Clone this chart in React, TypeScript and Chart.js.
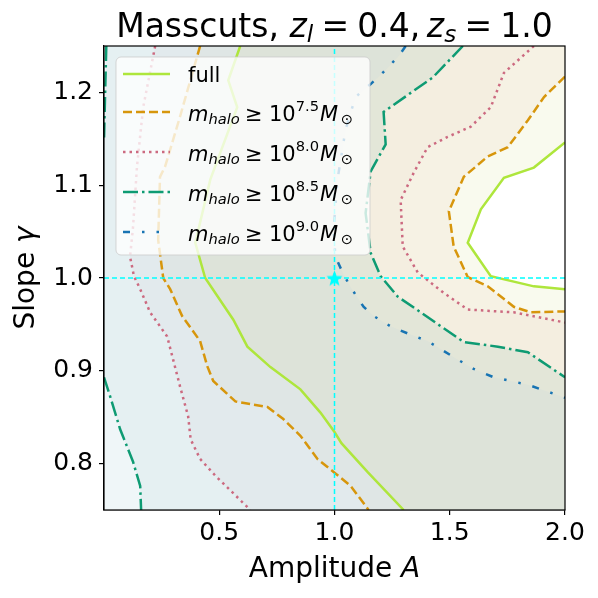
import { useEffect, useRef } from "react";
import { Chart, registerables } from "chart.js";
Chart.register(...registerables);

type P = [number, number];

// ---------- data ----------
const xRange: P = [0, 2];
const yRange: P = [0.75, 1.25];
const xTicks = [0.5, 1.0, 1.5, 2.0];
const yTicks = [0.8, 0.9, 1.0, 1.1, 1.2];
const truth: P = [1.0, 1.0];
const massCutExponents = ["7.5", "8.0", "8.5", "9.0"];

const fullLower: P[] = [[0.591, 1.25], [0.539, 1.213], [0.578, 1.184], [0.461, 1.106], [0.396, 1.038], [0.439, 1.0], [0.561, 0.955], [0.622, 0.926], [0.722, 0.904], [0.852, 0.88], [0.939, 0.855], [1.0, 0.834], [1.03, 0.822], [1.143, 0.791], [1.3, 0.75]];
const fullUpper: P[] = [[2.0, 1.146], [1.865, 1.119], [1.735, 1.108], [1.635, 1.074], [1.578, 1.038], [1.678, 1.002], [1.865, 0.991], [2.0, 0.988]];
const m75Lower: P[] = [[0.417, 1.25], [0.33, 1.174], [0.265, 1.12], [0.243, 1.109], [0.235, 1.041], [0.257, 1.0], [0.287, 0.988], [0.339, 0.959], [0.417, 0.932], [0.448, 0.905], [0.474, 0.889], [0.57, 0.867], [0.709, 0.861], [0.778, 0.848], [0.852, 0.83], [0.926, 0.805], [0.996, 0.791], [1.07, 0.776], [1.148, 0.75]];
const m75Upper: P[] = [[2.0, 1.217], [1.909, 1.195], [1.839, 1.17], [1.752, 1.141], [1.665, 1.131], [1.561, 1.109], [1.496, 1.072], [1.517, 1.034], [1.578, 1.001], [1.665, 0.991], [1.778, 0.969], [1.852, 0.963], [2.0, 0.964]];
const m80Lower: P[] = [[0.222, 1.25], [0.17, 1.184], [0.143, 1.12], [0.126, 1.055], [0.113, 1.023], [0.13, 1.002], [0.157, 0.988], [0.2, 0.963], [0.274, 0.937], [0.3, 0.912], [0.33, 0.883], [0.365, 0.851], [0.376, 0.826], [0.417, 0.805], [0.483, 0.787], [0.635, 0.75]];
const m80Upper: P[] = [[1.865, 1.25], [1.735, 1.221], [1.678, 1.184], [1.591, 1.163], [1.491, 1.152], [1.404, 1.141], [1.343, 1.113], [1.287, 1.084], [1.296, 1.034], [1.361, 1.006], [1.474, 0.984], [1.578, 0.966], [1.778, 0.963], [2.0, 0.952]];
const m85Lower: P[] = [[0.0, 0.893], [0.026, 0.873], [0.07, 0.837], [0.126, 0.802], [0.157, 0.776], [0.161, 0.75]];
const m85Corner: P[] = [[0.01, 1.25], [0.005, 1.2], [0.0, 1.148]];
const m85Upper: P[] = [[1.557, 1.25], [1.426, 1.216], [1.213, 1.179], [1.222, 1.144], [1.157, 1.115], [1.135, 1.07], [1.157, 1.027], [1.2, 1.002], [1.274, 0.98], [1.374, 0.963], [1.461, 0.948], [1.561, 0.931], [1.709, 0.926], [1.839, 0.92], [2.0, 0.893]];
const m90Upper: P[] = [[1.309, 1.25], [1.278, 1.239], [1.213, 1.222], [1.157, 1.209], [1.091, 1.195], [1.048, 1.16], [1.013, 1.106], [0.996, 1.052], [1.004, 1.023], [1.035, 1.006], [1.07, 0.99], [1.126, 0.969], [1.17, 0.959], [1.243, 0.948], [1.33, 0.939], [1.404, 0.932], [1.535, 0.912], [1.604, 0.902], [1.691, 0.893], [1.839, 0.885], [2.0, 0.871]];

// ---------- styles ----------
const FAM = '"DejaVu Sans"';
const LW = 2.5;
const styles = {
  full: { color: "#aee63c", dash: [] as number[] },
  m75: { color: "#d7960c", dash: [9, 4] },
  m80: { color: "#cc6a80", dash: [2.5, 4] },
  m85: { color: "#0e9b73", dash: [15, 4, 2.5, 4] },
  m90: { color: "#1874b3", dash: [7, 12, 2.5, 12, 2.5, 12] },
};
const CYAN = "#00ffff";

const TL: P = [xRange[0], yRange[1]];
const TR: P = [xRange[1], yRange[1]];
const BR: P = [xRange[1], yRange[0]];
const BL: P = [xRange[0], yRange[0]];

const fillRegions: { pts: P[]; color: string }[] = [
  { pts: [BL, BR, TR, TL], color: "#eff6f8" },
  { pts: [...m85Lower, BR, TR, TL], color: "#e5f0f2" },
  { pts: [...m85Corner, TL], color: "#eff6f8" },
  { pts: [...m80Lower, BR, TR], color: "#e2eaed" },
  { pts: [...m75Lower, BR, TR], color: "#dfe6e5" },
  { pts: [...fullLower, BR, TR], color: "#dde3d9" },
  { pts: [...m90Upper, TR], color: "#e3e6d8" },
  { pts: [...m85Upper, TR], color: "#f4eee0" },
  { pts: [...m80Upper, TR], color: "#f6f2e4" },
  { pts: [...m75Upper], color: "#f9faee" },
  { pts: [...fullUpper], color: "#ffffff" },
];

type Seg = { t: string; it?: boolean; s?: number; dy?: number; pl?: number; pr?: number };
const fontOf = (size: number, sg: Seg) => `${sg.it ? "italic " : ""}${size * (sg.s ?? 1)}px ${FAM}`;
function richWidth(ctx: CanvasRenderingContext2D, segs: Seg[], size: number) {
  let w = 0;
  for (const sg of segs) {
    ctx.font = fontOf(size, sg);
    w += ctx.measureText(sg.t).width + ((sg.pl ?? 0) + (sg.pr ?? 0)) * size;
  }
  return w;
}
function drawRich(ctx: CanvasRenderingContext2D, segs: Seg[], x: number, y: number, size: number, align: "left" | "center") {
  let cx = align === "center" ? x - richWidth(ctx, segs, size) / 2 : x;
  ctx.textAlign = "left";
  ctx.textBaseline = "alphabetic";
  ctx.fillStyle = "#000";
  for (const sg of segs) {
    ctx.font = fontOf(size, sg);
    cx += (sg.pl ?? 0) * size;
    ctx.fillText(sg.t, cx, y + (sg.dy ?? 0) * size);
    cx += ctx.measureText(sg.t).width + (sg.pr ?? 0) * size;
  }
}

const titleSegs: Seg[] = [
  { t: "Masscuts, " }, { t: "z", it: true }, { t: "l", it: true, s: 0.7, dy: 0.15 },
  { t: "=", pl: 0.25, pr: 0.25 }, { t: "0.4," }, { t: "z", it: true, pl: 0.2 },
  { t: "s", it: true, s: 0.7, dy: 0.15 }, { t: "=", pl: 0.25, pr: 0.25 }, { t: "1.0" },
];
const xTitleSegs: Seg[] = [{ t: "Amplitude " }, { t: "A", it: true }];
const yTitleSegs: Seg[] = [{ t: "Slope " }, { t: "γ", it: true }];
const mhaloLabel = (e: string): Seg[] => [
  { t: "m", it: true }, { t: "halo", it: true, s: 0.7, dy: 0.12 },
  { t: "≥", pl: 0.25, pr: 0.3 }, { t: "10" }, { t: e, s: 0.7, dy: -0.48 },
  { t: "M", it: true, pl: 0.05 }, { t: "⊙", s: 0.7, dy: 0.12, pl: 0.12 },
];
const legendEntries = [
  { segs: [{ t: "full" }] as Seg[], st: styles.full },
  { segs: mhaloLabel(massCutExponents[0]), st: styles.m75 },
  { segs: mhaloLabel(massCutExponents[1]), st: styles.m80 },
  { segs: mhaloLabel(massCutExponents[2]), st: styles.m85 },
  { segs: mhaloLabel(massCutExponents[3]), st: styles.m90 },
];

function makeStar(size: number, color: string) {
  const c = document.createElement("canvas");
  c.width = size;
  c.height = size;
  const g = c.getContext("2d")!;
  const cx = size / 2, cy = size / 2 + size * 0.05, R = size / 2, r = R * 0.42;
  g.beginPath();
  for (let i = 0; i < 10; i++) {
    const a = -Math.PI / 2 + (i * Math.PI) / 5;
    const rad = i % 2 ? r : R;
    const px = cx + rad * Math.cos(a), py = cy + rad * Math.sin(a);
    if (i) g.lineTo(px, py); else g.moveTo(px, py);
  }
  g.closePath();
  g.fillStyle = color;
  g.fill();
  return c;
}

const line = (pts: P[], st: { color: string; dash: number[] }, order = 5) => ({
  data: pts.map(([x, y]) => ({ x, y })),
  showLine: true,
  borderColor: st.color,
  borderWidth: LW,
  borderDash: st.dash,
  borderCapStyle: "butt" as const,
  pointRadius: 0,
  fill: false,
  tension: 0,
  order,
});

export default function App() {
  const ref = useRef<HTMLCanvasElement | null>(null);
  useEffect(() => {
    if (!ref.current) return;
    const star = makeStar(17, CYAN);
    const fillPlugin = {
      id: "fills",
      beforeDatasetsDraw(chart: any) {
        const { ctx, chartArea: ca, scales } = chart;
        const sx = scales.x, sy = scales.y;
        ctx.save();
        ctx.beginPath();
        ctx.rect(ca.left, ca.top, ca.right - ca.left, ca.bottom - ca.top);
        ctx.clip();
        for (const r of fillRegions) {
          ctx.beginPath();
          r.pts.forEach(([a, g]: P, i: number) => {
            const px = sx.getPixelForValue(a), py = sy.getPixelForValue(g);
            if (i) ctx.lineTo(px, py); else ctx.moveTo(px, py);
          });
          ctx.closePath();
          ctx.fillStyle = r.color;
          ctx.fill();
        }
        ctx.restore();
      },
      afterDatasetsDraw(chart: any) {
        const { ctx, chartArea: ca } = chart;
        ctx.save();
        ctx.strokeStyle = "#000";
        ctx.lineWidth = 1.2;
        ctx.setLineDash([]);
        ctx.strokeRect(ca.left, ca.top, ca.right - ca.left, ca.bottom - ca.top);
        ctx.restore();
      },
      afterDraw(chart: any) {
        const { ctx, chartArea: ca } = chart;
        ctx.save();
        const cxm = (ca.left + ca.right) / 2;
        const cym = (ca.top + ca.bottom) / 2;
        drawRich(ctx, titleSegs, cxm, 37, 33, "center");
        drawRich(ctx, xTitleSegs, cxm, 577, 28, "center");
        ctx.save();
        ctx.translate(34, cym);
        ctx.rotate(-Math.PI / 2);
        drawRich(ctx, yTitleSegs, 0, 0, 28, "center");
        ctx.restore();
        // legend
        const lx = ca.left + 12, ly = ca.top + 11, lw = 254, lh = 198, rr = 5;
        ctx.beginPath();
        ctx.moveTo(lx + rr, ly);
        ctx.arcTo(lx + lw, ly, lx + lw, ly + lh, rr);
        ctx.arcTo(lx + lw, ly + lh, lx, ly + lh, rr);
        ctx.arcTo(lx, ly + lh, lx, ly, rr);
        ctx.arcTo(lx, ly, lx + lw, ly, rr);
        ctx.closePath();
        ctx.fillStyle = "rgba(255,255,255,0.78)";
        ctx.fill();
        ctx.strokeStyle = "rgba(204,204,204,0.8)";
        ctx.lineWidth = 1;
        ctx.stroke();
        const centers = [74, 112, 152, 192, 232];
        const bases = [82, 121, 161, 201, 241];
        legendEntries.forEach((e, i) => {
          ctx.beginPath();
          ctx.setLineDash(e.st.dash);
          ctx.lineCap = "butt";
          ctx.strokeStyle = e.st.color;
          ctx.lineWidth = LW;
          ctx.moveTo(lx + 7, centers[i]);
          ctx.lineTo(lx + 54, centers[i]);
          ctx.stroke();
          ctx.setLineDash([]);
          drawRich(ctx, e.segs, lx + 72, bases[i], 21, "left");
        });
        ctx.restore();
      },
    };
    const tickFont = { family: FAM, size: 25 };
    const chart = new Chart(ref.current, {
      type: "scatter",
      data: {
        datasets: [
          {
            data: [{ x: truth[0], y: truth[1] }],
            pointStyle: star as any,
            pointRadius: 8,
            order: 0,
          } as any,
          { ...line([[truth[0], yRange[0]], [truth[0], yRange[1]]], { color: CYAN, dash: [5, 3] }, 1), borderWidth: 1.5 },
          { ...line([[xRange[0], truth[1]], [xRange[1], truth[1]]], { color: CYAN, dash: [5, 3] }, 1), borderWidth: 1.5 },
          line(fullLower, styles.full, 6),
          line(fullUpper, styles.full, 6),
          line(m75Lower, styles.m75, 5),
          line(m75Upper, styles.m75, 5),
          line(m80Lower, styles.m80, 4),
          line(m80Upper, styles.m80, 4),
          line(m85Lower, styles.m85, 3),
          line(m85Corner, styles.m85, 3),
          line(m85Upper, styles.m85, 3),
          line(m90Upper, styles.m90, 2),
        ],
      },
      options: {
        animation: false,
        responsive: false,
        maintainAspectRatio: false,
        layout: { padding: { top: 46, right: 33, left: 0, bottom: 0 } },
        plugins: { legend: { display: false }, tooltip: { enabled: false }, title: { display: false } },
        scales: {
          x: {
            type: "linear",
            min: xRange[0],
            max: xRange[1],
            afterBuildTicks: (s: any) => { s.ticks = xTicks.map((v) => ({ value: v })); },
            afterFit: (s: any) => { s.height = 88; },
            ticks: { font: tickFont, color: "#000", padding: 3, maxRotation: 0, autoSkip: false, callback: (v: any) => Number(v).toFixed(1) },
            grid: { drawOnChartArea: false, drawTicks: true, tickLength: 5, color: "#000", lineWidth: 1.2 },
            border: { display: true, color: "#000", width: 1.2 },
          },
          y: {
            type: "linear",
            min: yRange[0],
            max: yRange[1],
            afterBuildTicks: (s: any) => { s.ticks = yTicks.map((v) => ({ value: v })); },
            afterFit: (s: any) => { s.width = 104; },
            ticks: { font: tickFont, color: "#000", padding: 6, autoSkip: false, callback: (v: any) => Number(v).toFixed(1) },
            grid: { drawOnChartArea: false, drawTicks: true, tickLength: 5, color: "#000", lineWidth: 1.2 },
            border: { display: true, color: "#000", width: 1.2 },
          },
        },
      },
      plugins: [fillPlugin],
    } as any);
    return () => chart.destroy();
  }, []);
  return (
    <div style={{ position: "fixed", left: 0, top: 0, width: 598, height: 598, background: "#fff" }}>
      <canvas ref={ref} width={598} height={598} style={{ display: "block", width: 598, height: 598 }} />
    </div>
  );
}
